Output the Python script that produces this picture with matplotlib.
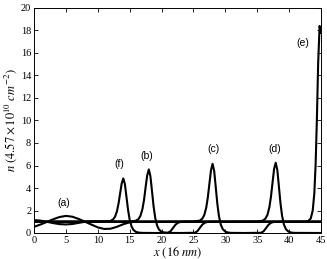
import matplotlib
matplotlib.use("Agg")
import matplotlib.pyplot as plt

plt.rcParams["mathtext.fontset"] = "stix"

# ---- data ----
xa = [0, 1, 2, 3, 4, 5, 6, 7, 8, 9, 10, 11, 12, 13, 14, 15, 16, 18, 20, 25, 30, 35, 40, 45]
ya = [0.55, 0.75, 0.98, 1.22, 1.42, 1.52, 1.45, 1.25, 1.0, 0.75, 0.5, 0.36, 0.38, 0.55, 0.78, 0.95, 1.0, 1.0, 1.0, 1.0, 1.0, 1.0, 1.0, 1.0]

xf = [0, 1, 2, 3, 4, 5, 6, 7, 8, 9, 10, 11, 12.0, 12.4, 12.7, 13.0, 13.25, 13.5, 13.75, 14.0,
      14.25, 14.5, 14.75, 15.0, 15.3, 15.6, 16.0, 16.5, 17, 19, 21.0, 21.4, 21.8, 22.2, 22.6, 23.0, 24, 30, 35, 40, 45]
yf = [1.15, 1.1, 1.0, 0.88, 0.79, 0.76, 0.8, 0.9, 1.0, 1.04, 1.04, 1.04, 1.07, 1.21, 1.44, 1.92, 2.6, 3.51, 4.41, 4.85,
      4.35, 3.2, 2.04, 1.18, 0.57, 0.27, 0.09, 0.03, 0.01, 0.0, 0.02, 0.15, 0.45, 0.75, 0.92, 0.98, 1.0, 1.0, 1.0, 1.0, 1.0]

xb = [0, 5, 10, 15, 16.0, 16.4, 16.7, 17.0, 17.25, 17.5, 17.75, 18.0,
      18.25, 18.5, 18.75, 19.0, 19.3, 19.6, 20.0, 20.5, 21, 23, 25.2, 25.6, 26.0, 26.4, 26.8, 27.2, 28, 35, 40, 45]
yb = [1.0, 1.0, 1.0, 1.02, 1.09, 1.25, 1.54, 2.12, 2.93, 4.07, 5.12, 5.65,
      5.06, 3.73, 2.37, 1.37, 0.66, 0.31, 0.11, 0.03, 0.01, 0.0, 0.02, 0.15, 0.45, 0.75, 0.92, 0.98, 1.0, 1.0, 1.0, 1.0]

xc = [0, 10, 20, 25, 26.0, 26.4, 26.7, 27.0, 27.25, 27.5, 27.75, 28.0,
      28.25, 28.5, 28.75, 29.0, 29.3, 29.6, 30.0, 30.5, 31, 33, 35.6, 36.0, 36.4, 36.8, 37.2, 37.6, 38.5, 45]
yc = [1.0, 1.0, 1.0, 1.02, 1.1, 1.28, 1.6, 2.24, 3.14, 4.37, 5.57, 6.15,
      5.52, 4.06, 2.58, 1.49, 0.72, 0.34, 0.12, 0.03, 0.01, 0.0, 0.02, 0.15, 0.45, 0.75, 0.92, 0.98, 1.0, 1.0]

xd = [0, 10, 20, 30, 35, 35.9, 36.3, 36.6, 36.9, 37.15, 37.4, 37.65, 37.9,
      38.15, 38.4, 38.65, 38.9, 39.2, 39.5, 39.9, 40.4, 41, 45]
yd = [1.0, 1.0, 1.0, 1.0, 1.02, 1.1, 1.29, 1.61, 2.28, 3.21, 4.47, 5.71, 6.25,
      5.61, 4.13, 2.63, 1.52, 0.73, 0.34, 0.12, 0.03, 0.01, 0.0]

xe = [0, 10, 20, 30, 40, 42.5, 43.0, 43.4, 43.7, 43.95, 44.15, 44.35, 44.55, 44.78, 45.0]
ye = [1.0, 1.0, 1.0, 1.0, 1.0, 1.02, 1.06, 1.3, 2.0, 3.5, 6.0, 10.0, 15.0, 18.4, 17.8]

labels = ["(a)", "(f)", "(b)", "(c)", "(d)", "(e)"]
label_x = [4.6, 13.3, 17.7, 28.1, 37.8, 42.2]
label_y = [2.7, 6.1, 6.85, 7.5, 7.5, 16.9]

xticks = [0, 5, 10, 15, 20, 25, 30, 35, 40, 45]
yticks = [0, 2, 4, 6, 8, 10, 12, 14, 16, 18, 20]

# ---- figure ----
fig = plt.figure(figsize=(3.27, 2.59), dpi=100)
ax = fig.add_axes([34/327, 26/259, 287/327, 225/259])

for xs, ys in [(xa, ya), (xf, yf), (xb, yb), (xc, yc), (xd, yd), (xe, ye)]:
    ax.plot(xs, ys, color="black", lw=1.5, solid_joinstyle="round")

ax.set_xlim(0, 45)
ax.set_ylim(0, 20)
ax.set_xticks(xticks)
ax.set_yticks(yticks)
serif = ["Liberation Serif", "DejaVu Serif"]
ax.set_xticklabels([str(t) for t in xticks], family=serif, fontsize=7.5)
ax.set_yticklabels([str(t) for t in yticks], family=serif, fontsize=7.5)
ax.tick_params(direction="in", top=True, right=True, length=3, width=0.6, pad=2)
for s in ax.spines.values():
    s.set_linewidth(0.7)

ax.set_xlabel(r"$x\ (16\ nm)$", fontsize=9, labelpad=0)
ax.set_ylabel(r"$n\ (4.57\times10^{10}\ cm^{-2})$", fontsize=9, labelpad=1)

for t, lx, ly in zip(labels, label_x, label_y):
    ax.text(lx, ly, t, family=["Liberation Sans", "DejaVu Sans"], fontsize=7.5, ha="center", va="center")

fig.savefig("out.png", dpi=100)
